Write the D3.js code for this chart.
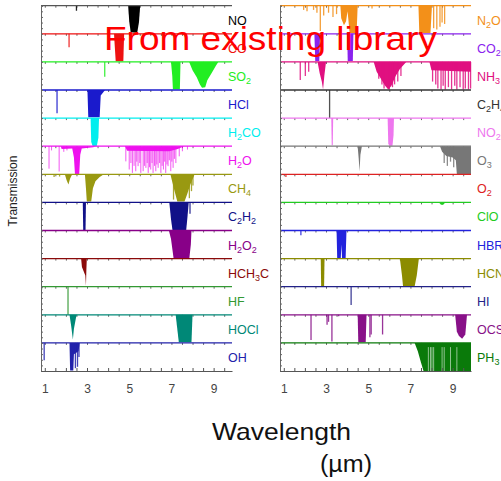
<!DOCTYPE html>
<html>
<head>
<meta charset="utf-8">
<script src="https://cdn.jsdelivr.net/npm/d3@7"></script>
<style>
  body { margin: 0; background: #fff; }
  svg { display: block; font-family: "Liberation Sans", Arial, sans-serif; }
</style>
</head>
<body>
<svg id="chart" width="501" height="481"></svg>
<script>
// wavelength axis (µm)
const wlDomain = [0.82, 9.87]
const wlTicks = [1, 3, 5, 7, 9]
const minorTicks = [1, 1.5, 2, 2.5, 3, 3.5, 4, 4.5, 5, 5.5, 6, 6.5, 7, 7.5, 8, 8.5, 9, 9.5]

// left column, top to bottom
const leftNames = ["NO", "CO", "SO2", "HCl", "H2CO", "H2O", "CH4", "C2H2", "H2O2", "HCH3C", "HF", "HOCl", "OH"]
const leftColors = ["#000000", "#ee1111", "#22ee22", "#1a1acc", "#00eeee", "#ee11ee", "#999911",
                    "#111188", "#880088", "#8b0a0a", "#339933", "#008877", "#2222aa"]
// absorption bands: polylines of [wavelength, depth 0..1]
const leftBands = [
  [[[4.95, 0], [5.0, 0.55], [5.07, 0.95], [5.38, 0.95], [5.46, 0.6], [5.52, 0]]],                 // NO
  [[[4.28, 0], [4.32, 0.5], [4.36, 0.98], [4.72, 0.98], [4.76, 0]]],                              // CO
  [[[6.98, 0], [7.04, 0.5], [7.07, 0.97], [7.4, 0.97], [7.43, 0]],
   [[7.84, 0], [8.0, 0.3], [8.2, 0.55], [8.35, 0.8], [8.45, 0.92], [8.6, 0.9], [8.7, 0.65],
    [8.9, 0.4], [9.1, 0.15], [9.22, 0]]],                                                          // SO2
  [[[3.02, 0], [3.06, 0.97], [3.6, 0.97], [3.65, 0.2], [3.8, 0.05], [3.86, 0]]],                 // HCl
  [[[3.17, 0], [3.2, 0.85], [3.27, 1.0], [3.46, 1.0], [3.54, 0.7], [3.57, 0]]],                   // H2CO
  [[[1.75, 0], [1.8, 0.1], [2.3, 0.08], [2.38, 0.4], [2.43, 1.0], [2.63, 1.0], [2.68, 0.3],
    [2.75, 0.08], [3.3, 0.04], [3.4, 0]],
   [[4.8, 0], [4.9, 0.16], [6.9, 0.18], [7.3, 0.1], [7.6, 0]]],                                    // H2O
  [[[1.95, 0], [2.03, 0.2], [2.12, 0.36], [2.2, 0.15], [2.3, 0]],
   [[2.9, 0], [2.95, 0.5], [2.99, 0.97], [3.2, 0.97], [3.28, 0.5], [3.4, 0.25], [3.6, 0.1], [3.8, 0]],
   [[6.95, 0], [7.05, 0.3], [7.15, 0.6], [7.28, 0.97], [7.62, 0.97], [7.75, 0.7], [7.9, 0.35], [8.1, 0]]], // CH4
  [[[2.8, 0], [2.82, 0.98], [2.93, 0.98], [2.95, 0]],
   [[6.9, 0], [6.98, 0.6], [7.05, 0.98], [7.7, 0.98], [7.75, 0.6], [7.82, 0]]],                   // C2H2
  [[[6.88, 0], [6.98, 0.3], [7.1, 0.98], [7.85, 0.98], [7.92, 0.5], [7.95, 0]]],                  // H2O2
  [[[2.72, 0], [2.76, 0.3], [2.84, 0.45], [2.92, 0.6], [2.95, 0.97], [2.97, 0.4], [2.99, 0]]],    // HCH3C
  [],                                                                                               // HF
  [[[2.17, 0], [2.25, 0.4], [2.33, 0.88], [2.38, 0.5], [2.48, 0.1], [2.52, 0]],
   [[7.2, 0], [7.35, 0.98], [7.95, 0.98], [8.0, 0]]],                                              // HOCl
  [[[2.17, 0], [2.2, 0.98], [2.35, 0.98], [2.38, 0.4], [2.6, 0.3], [2.65, 0]]]                     // OH
]
// single absorption lines: [wavelength, depth]
const leftLines = [
  [[2.5, 0.18]],
  [[2.15, 0.48]],
  [[3.84, 0.53]],
  [[1.58, 0.83]],
  [],
  [[1.2, 0.8], [1.32, 0.15], [1.68, 0.9], [1.9, 0.2], [2.05, 0.15],
   [4.84, 0.54], [5.0, 0.83], [5.08, 0.6], [5.15, 0.95], [5.23, 0.7], [5.31, 0.89], [5.36, 0.55],
   [5.42, 0.71], [5.5, 0.6], [5.55, 0.95], [5.66, 0.89], [5.72, 0.7], [5.79, 0.77], [5.85, 0.6],
   [5.9, 0.95], [5.96, 0.75], [6.02, 0.83], [6.08, 0.6], [6.13, 0.95], [6.2, 0.7], [6.26, 0.89],
   [6.31, 0.65], [6.37, 0.77], [6.44, 0.6], [6.5, 0.95], [6.56, 0.7], [6.62, 0.83], [6.68, 0.55],
   [6.73, 0.95], [6.79, 0.65], [6.84, 0.71], [6.9, 0.5], [6.97, 0.89], [7.02, 0.55], [7.08, 0.77],
   [7.14, 0.45], [7.21, 0.6], [7.37, 0.36], [7.52, 0.18], [7.76, 0.12]],
  [[1.44, 0.1], [1.7, 0.08], [7.1, 0.9], [7.85, 0.85], [7.95, 0.6], [8.02, 0.4]],
  [[7.88, 0.4]],
  [],
  [],
  [[0.85, 0.1], [2.1, 1.0]],
  [],
  [[0.97, 0.62], [2.45, 0.9], [2.55, 0.85], [2.62, 0.5]]
]

// right column, top to bottom
const rightNames = ["N2O", "CO2", "NH3", "C2H4", "NO2", "O3", "O2", "ClO", "HBR", "HCN", "HI", "OCS", "PH3"]
const rightColors = ["#f39019", "#8a22ee", "#e01080", "#333333", "#ee77ee", "#777777", "#dd2222",
                     "#22cc22", "#2222dd", "#8c8c00", "#222288", "#881188", "#0a7a0a"]
const rightBands = [
  [[[3.68, 0], [3.72, 0.45], [3.85, 0.7], [3.95, 0.55], [4.02, 0.2], [4.06, 0.5], [4.12, 0.98],
    [4.45, 0.98], [4.5, 0]],
   [[7.38, 0], [7.42, 0.97], [7.95, 0.97], [8.02, 0]]],                                            // N2O
  [[[2.45, 0], [2.49, 0.97], [2.68, 0.97], [2.72, 0]],
   [[4.0, 0], [4.03, 0.97], [4.27, 0.97], [4.3, 0]]],                                              // CO2
  [[[2.6, 0], [2.7, 0.4], [2.8, 0.7], [2.86, 0.98], [2.92, 0.5], [3.0, 0]],
   [[5.26, 0], [5.4, 0.35], [5.6, 0.6], [5.8, 0.85], [5.95, 0.98], [6.1, 0.85], [6.3, 0.5],
    [6.5, 0.25], [6.8, 0]],
   [[7.9, 0], [8.0, 0.3], [9.87, 0.35], [9.87, 0]]],                                              // NH3
  [],                                                                                               // C2H4
  [[[3.25, 0], [3.27, 0.97], [3.32, 0.97], [3.34, 0]],
   [[5.92, 0], [5.95, 0.9], [6.0, 0.98], [6.15, 0.98], [6.2, 0.6], [6.22, 0]]],                   // NO2
  [[[4.5, 0], [4.55, 0.45], [4.59, 0.9], [4.63, 0.3], [4.7, 0]],
   [[8.4, 0], [8.5, 0.2], [8.7, 0.35], [9.0, 0.4], [9.15, 0.5], [9.2, 1.0], [9.87, 1.0], [9.87, 0]]], // O3
  [],                                                                                               // O2
  [[[8.35, 0], [8.45, 0.08], [8.55, 0.08], [8.65, 0]]],                                           // ClO
  [[[3.5, 0], [3.53, 0.98], [3.7, 0.98], [3.73, 0.5], [3.76, 0.98], [3.93, 0.98], [3.97, 0]]],   // HBr
  [[[2.75, 0], [2.77, 0.98], [2.91, 0.98], [2.93, 0]],
   [[6.5, 0], [6.6, 0.6], [6.65, 0.98], [7.2, 0.98], [7.3, 0.6], [7.4, 0]]],                      // HCN
  [],                                                                                               // HI
  [[[4.5, 0], [4.53, 0.98], [4.88, 0.98], [4.92, 0]],
   [[9.12, 0], [9.2, 0.6], [9.3, 0.75], [9.45, 0.85], [9.6, 0.7], [9.68, 0]]],                    // OCS
  [[[7.2, 0], [7.35, 0.3], [7.5, 0.7], [7.62, 1.0], [9.87, 1.0], [9.87, 0]]]                      // PH3
]
const rightLines = [
  [[1.94, 0.15], [2.1, 0.2], [2.41, 0.15], [2.57, 0.25], [2.73, 0.9], [2.89, 0.35], [3.12, 0.25],
   [3.33, 0.4], [3.5, 0.3], [5.18, 0.1], [8.1, 0.8], [8.25, 0.85], [8.4, 0.75], [8.5, 0.6], [8.62, 0.65]],
  [],
  [[1.78, 0.64], [2.02, 0.5], [2.18, 0.35], [5.5, 0.6], [5.65, 0.8], [5.75, 0.95], [6.0, 0.98],
   [6.15, 0.9], [6.25, 0.8], [6.4, 0.7], [6.55, 0.5], [8.05, 0.7], [8.2, 0.8], [8.3, 0.95],
   [8.45, 0.98], [8.55, 0.85], [8.65, 0.98], [8.8, 0.9], [8.95, 0.98], [9.1, 0.85], [9.2, 0.98],
   [9.35, 0.9], [9.5, 0.98], [9.6, 0.95], [9.75, 0.98], [9.85, 0.95]],
  [[3.17, 1.0]],
  [],
  [[8.6, 0.6], [8.75, 0.7], [8.9, 0.55], [9.05, 0.75]],
  [[1.1, 0.1]],
  [],
  [[1.81, 0.17]],
  [],
  [[4.19, 0.65]],
  [[2.29, 0.9], [3.05, 0.35], [3.12, 0.25], [3.28, 0.95], [3.6, 0.05], [5.08, 0.8], [5.14, 0.7], [5.68, 0.7]],
  []
]
// pale streaks inside the PH3 band
const ph3Streaks = [7.85, 7.95, 8.02, 8.1, 8.5, 8.6, 8.9, 9.2]

const svg = d3.select("#chart")
const yRow = d3.scaleLinear([0, 13], [5.7, 371])

function addLabel(sel, name, x, y, color) {
    const text = sel.append("text")
        .attr("x", x)
        .attr("y", y)
        .attr("fill", color)
        .style("font-size", "12.5px")
    const parts = name.split(/(\d+)/).filter(p => p.length)
    let sub = false
    parts.forEach(p => {
        const isNum = /^\d+$/.test(p)
        const dy = isNum && !sub ? 3 : (!isNum && sub ? -3 : 0)
        text.append("tspan")
            .attr("dy", dy)
            .style("font-size", isNum ? "9px" : "12.5px")
            .text(p)
        sub = isNum
    })
}

function drawPanel(left, right, labelX, names, colors, bands, lines) {
    const x = d3.scaleLinear(wlDomain, [left, right]).clamp(true)
    const g = svg.append("g")

    names.forEach((name, i) => {
        const top = yRow(i)
        const depth = d3.scaleLinear([0, 1], [top, yRow(i + 1)])
        const row = g.append("g")

        row.append("g")
            .attr("transform", `translate(0,${top})`)
            .call(d3.axisBottom(x).tickValues(minorTicks).tickSize(2).tickFormat(""))
            .call(a => a.select(".domain").remove())
            .call(a => a.selectAll("line").attr("stroke", "#666"))

        const area = d3.area()
            .x(d => x(d[0]))
            .y0(top)
            .y1(d => depth(d[1]))

        row.selectAll("path.band")
            .data(bands[i])
            .join("path")
            .attr("class", "band")
            .attr("d", area)
            .attr("fill", colors[i])

        row.selectAll("line.spike")
            .data(lines[i])
            .join("line")
            .attr("class", "spike")
            .attr("x1", d => x(d[0]))
            .attr("x2", d => x(d[0]))
            .attr("y1", top)
            .attr("y2", d => depth(d[1]))
            .attr("stroke", colors[i])
            .attr("stroke-width", name === "H2O" ? 1 : 1.3)
            .attr("opacity", name === "H2O" ? 0.7 : 0.85)

        if (name === "PH3") {
            row.selectAll("line.streak")
                .data(ph3Streaks)
                .join("line")
                .attr("class", "streak")
                .attr("x1", d => x(d))
                .attr("x2", d => x(d))
                .attr("y1", depth(0.15))
                .attr("y2", depth(1))
                .attr("stroke", "#fff")
                .attr("stroke-width", 1)
                .attr("opacity", 0.55)
        }

        row.append("line")
            .attr("x1", left)
            .attr("x2", right)
            .attr("y1", top)
            .attr("y2", top)
            .attr("stroke", name === "NO" ? "#555" : colors[i])
            .attr("stroke-width", 1.3)

        addLabel(row, name, labelX, top + 19, colors[i])
    })

    // left frame with small ticks
    const yTicks = d3.range(0, 13.01, 0.2).map(v => yRow(v))
    const yLin = d3.scaleIdentity([yRow(0), yRow(13)])
    svg.append("g")
        .attr("transform", `translate(${left},0)`)
        .call(d3.axisRight(yLin).tickValues(yTicks).tickSize(2).tickFormat(""))
        .call(a => a.select(".domain").attr("stroke", "#666"))
        .call(a => a.selectAll("line").attr("stroke", "#666"))

    // bottom axis
    const bottom = yRow(13)
    svg.append("g")
        .attr("transform", `translate(0,${bottom})`)
        .call(d3.axisBottom(x).tickValues(minorTicks).tickSize(-3).tickFormat("").tickSizeOuter(0))
        .call(a => a.select(".domain").attr("stroke", "#555"))
        .call(a => a.selectAll("line").attr("stroke", "#555"))

    svg.append("g")
        .attr("transform", `translate(0,${bottom})`)
        .call(d3.axisBottom(x).tickValues(wlTicks).tickSize(0).tickPadding(13))
        .call(a => a.select(".domain").remove())
        .call(a => a.selectAll("text")
            .attr("fill", "#444")
            .style("font-size", "12px")
            .style("font-family", "'Liberation Sans', Arial, sans-serif"))
}

drawPanel(41, 232, 228, leftNames, leftColors, leftBands, leftLines)
drawPanel(280, 471, 477, rightNames, rightColors, rightBands, rightLines)

svg.append("text")
    .attr("transform", "translate(17,191) rotate(-90)")
    .attr("text-anchor", "middle")
    .attr("fill", "#222")
    .style("font-size", "12px")
    .text("Transmission")

svg.append("text")
    .attr("x", 212)
    .attr("y", 440)
    .attr("textLength", 139)
    .attr("lengthAdjust", "spacingAndGlyphs")
    .attr("fill", "#111")
    .style("font-size", "24px")
    .text("Wavelength")

svg.append("text")
    .attr("x", 320)
    .attr("y", 472)
    .attr("textLength", 52)
    .attr("lengthAdjust", "spacingAndGlyphs")
    .attr("fill", "#111")
    .style("font-size", "23px")
    .text("(µm)")

svg.append("text")
    .attr("x", 104)
    .attr("y", 50)
    .attr("textLength", 333)
    .attr("lengthAdjust", "spacingAndGlyphs")
    .attr("fill", "#ff0000")
    .style("font-size", "34px")
    .text("From existing library")
</script>
</body>
</html>
